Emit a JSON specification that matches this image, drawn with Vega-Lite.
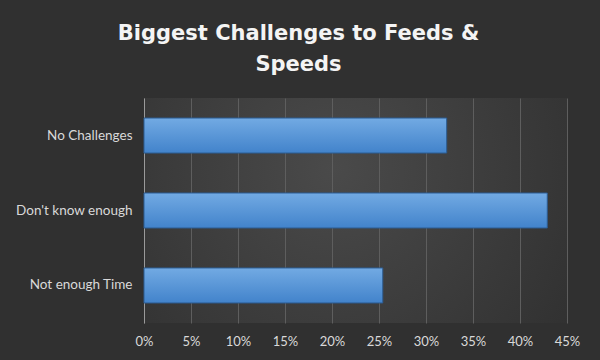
{
  "$schema": "https://vega.github.io/schema/vega-lite/v6.json",
  "width": 423,
  "height": 225,
  "autosize": {"type": "none"},
  "padding": {"left": 144, "top": 98, "right": 33, "bottom": 37},
  "background": "#303030",
  "title": {
    "text": ["Biggest Challenges to Feeds &", "Speeds"],
    "anchor": "middle",
    "frame": "group",
    "dx": -57,
    "offset": 23,
    "fontSize": 21,
    "lineHeight": 31,
    "font": "DejaVu Sans",
    "fontWeight": "bold",
    "color": "#f4f4f4"
  },
  "data": {
    "values": [
      {"challenge": "No Challenges", "share": 0.322},
      {"challenge": "Don't know enough", "share": 0.429},
      {"challenge": "Not enough Time", "share": 0.254}
    ]
  },
  "mark": {
    "type": "bar",
    "fill": {
      "gradient": "linear",
      "x1": 0, "y1": 0, "x2": 0, "y2": 1,
      "stops": [
        {"offset": 0, "color": "#72aae3"},
        {"offset": 1, "color": "#4283cb"}
      ]
    },
    "stroke": "#2c5c92",
    "strokeWidth": 1
  },
  "encoding": {
    "y": {
      "field": "challenge",
      "type": "nominal",
      "sort": ["No Challenges", "Don't know enough", "Not enough Time"],
      "scale": {"paddingInner": 0.533, "paddingOuter": 0.267},
      "axis": {
        "title": null,
        "ticks": false,
        "domain": true,
        "domainColor": "#9a9a9a",
        "labelPadding": 12,
        "labelFont": "Lato",
        "labelFontSize": 13.5,
        "labelColor": "#d9d9d9",
        "grid": false
      }
    },
    "x": {
      "field": "share",
      "type": "quantitative",
      "scale": {"domain": [0, 0.45], "nice": false},
      "axis": {
        "title": null,
        "format": ".0%",
        "values": [0, 0.05, 0.1, 0.15, 0.2, 0.25, 0.3, 0.35, 0.4, 0.45],
        "domain": false,
        "ticks": false,
        "labelFlush": false,
        "labelPadding": 12,
        "labelFont": "Lato",
        "labelFontSize": 13,
        "labelColor": "#d9d9d9",
        "grid": true,
        "gridColor": "#5e5e5e",
        "gridWidth": 1
      }
    }
  },
  "config": {
    "view": {
      "stroke": null,
      "fill": {
        "gradient": "radial",
        "x1": 0.45, "y1": 0.4, "r1": 0,
        "x2": 0.45, "y2": 0.4, "r2": 0.75,
        "stops": [
          {"offset": 0, "color": "#4a4a4a"},
          {"offset": 1, "color": "#2e2e2e"}
        ]
      }
    }
  }
}
